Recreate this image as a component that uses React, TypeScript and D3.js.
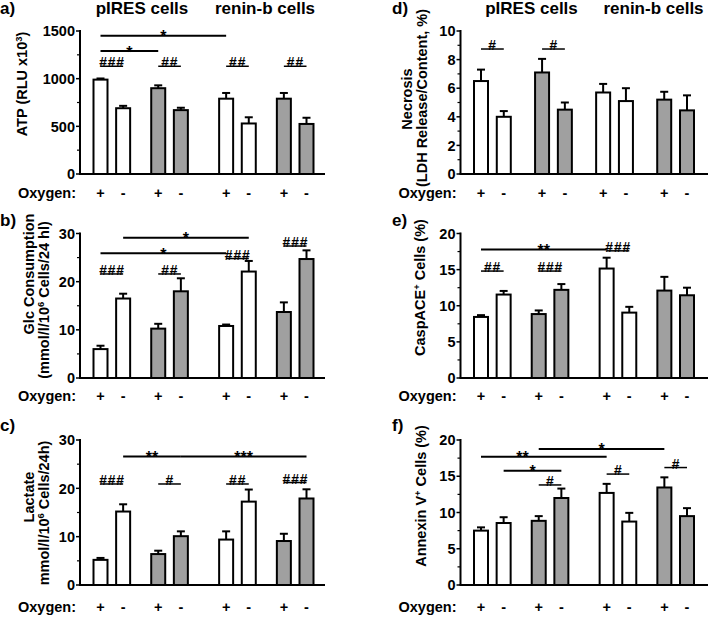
import React from "react";
import * as d3 from "d3";

// ---------- data ----------
const oxygen = ["+", "-", "+", "-", "+", "-", "+", "-"];
const cellLines = ["pIRES cells", "renin-b cells"];
const shadedBar = [false, false, true, true, false, false, true, true];

const atpValues = [990, 690, 900, 670, 790, 530, 790, 525];
const atpErrors = [12, 25, 30, 25, 60, 65, 60, 65];
const glcValues = [6.0, 16.5, 10.25, 18.0, 10.8, 22.1, 13.7, 24.7];
const glcErrors = [0.7, 1.0, 1.0, 2.7, 0.3, 2.2, 2.0, 1.8];
const lactateValues = [5.2, 15.2, 6.4, 10.1, 9.4, 17.25, 9.1, 17.9];
const lactateErrors = [0.4, 1.5, 0.7, 1.0, 1.7, 2.5, 1.5, 1.9];
const necrosisValues = [6.5, 4.0, 7.1, 4.5, 5.7, 5.1, 5.2, 4.45];
const necrosisErrors = [0.8, 0.4, 0.95, 0.5, 0.6, 0.9, 0.55, 1.05];
const caspValues = [8.45, 11.55, 8.85, 12.2, 15.15, 9.05, 12.1, 11.45];
const caspErrors = [0.25, 0.5, 0.5, 0.8, 1.5, 0.8, 1.9, 1.05];
const annexinValues = [7.5, 8.55, 8.85, 12.0, 12.7, 8.75, 13.45, 9.5];
const annexinErrors = [0.45, 0.8, 0.65, 1.3, 1.25, 1.2, 1.4, 1.1];

// significance marks: [fromBar, toBar, level (data units), label, labelFraction?]
const atpMarks: any[] = [
  [0, 4, 1450, "*"], [0, 2, 1290, "*"],
  [0, 1, 1130, "###"], [2, 3, 1130, "##"], [4, 5, 1130, "##"], [6, 7, 1130, "##"],
];
const glcMarks: any[] = [
  [1, 5, 29.1, "*"], [0, 4, 25.9, "*"],
  [0, 1, 21.6, "###"], [2, 3, 21.6, "##"], [4, 5, 24.8, "###"], [6, 7, 27.4, "###"],
];
const lactateMarks: any[] = [
  [1, 3, 26.6, "**"], [3, 7, 26.6, "***"],
  [0, 1, 20.9, "###"], [2, 3, 20.9, "#"], [4, 5, 20.9, "##"], [6, 7, 21.2, "###"],
];
const necrosisMarks: any[] = [[0, 1, 8.74, "#"], [2, 3, 8.74, "#"]];
const caspMarks: any[] = [
  [0, 4, 17.8, "**"], [0, 1, 14.8, "##"], [2, 3, 14.8, "###"], [4, 5, 17.6, "###"],
];
const annexinMarks: any[] = [
  [0, 4, 17.7, "**", 0.33], [2, 6, 18.76, "*"], [1, 3, 15.77, "*"],
  [2, 3, 13.8, "#"], [4, 5, 15.3, "#"], [6, 7, 16.2, "#"],
];

const atpLabel = [["ATP (RLU x10", "3", ")"]];
const glcLabel = [["Glc Consumption"], ["(mmol/l/10", "6", " Cells/24 hl)"]];
const lactateLabel = [["Lactate"], ["mmol/l/10", "6", " Cells/24h)"]];
const necrosisLabel = [["Necrosis"], ["(LDH Release/Content, %)"]];
const caspLabel = [["CaspACE", "+", " Cells (%)"]];
const annexinLabel = [["Annexin V", "+", " Cells (%)"]];

// ---------- layout ----------
const colAxisX = [80, 460.5];
const rowY = [[31, 174], [233.5, 378], [440, 585]];
const oxyBaseline = [198, 401, 612];
const panelLabelX = [0, 392];
const panelLabelY = [14, 226, 431];
const titleOffsets = [[62, 185], [71, 193]];
const leftGaps = [1.55, 2.0, 1.55];

const panels = [
  { id: "a)", col: 0, row: 0, values: atpValues, errors: atpErrors, max: 1500, major: 500, minor: 250, marks: atpMarks, label: atpLabel, lx: [-58], ly: [84], gaps: leftGaps },
  { id: "b)", col: 0, row: 1, values: glcValues, errors: glcErrors, max: 30, major: 10, minor: 5, marks: glcMarks, label: glcLabel, lx: [-51, -36], ly: [274, 300], gaps: leftGaps },
  { id: "c)", col: 0, row: 2, values: lactateValues, errors: lactateErrors, max: 30, major: 10, minor: 5, marks: lactateMarks, label: lactateLabel, lx: [-51, -36], ly: [497, 513], gaps: leftGaps },
  { id: "d)", col: 1, row: 0, values: necrosisValues, errors: necrosisErrors, max: 10, major: 2, minor: 1, marks: necrosisMarks, label: necrosisLabel, lx: [-53.5, -38.5], ly: [99, 98], gaps: [1.68, 1.68, 1.68] },
  { id: "e)", col: 1, row: 1, values: caspValues, errors: caspErrors, max: 20, major: 5, minor: 2.5, marks: caspMarks, label: caspLabel, lx: [-40.5], ly: [287.5], gaps: leftGaps },
  { id: "f)", col: 1, row: 2, values: annexinValues, errors: annexinErrors, max: 20, major: 5, minor: 2.5, marks: annexinMarks, label: annexinLabel, lx: [-39.5], ly: [496], gaps: leftGaps },
];

function LabelLine({ parts }: { parts: string[] }) {
  return (
    <>
      {parts.map((t, k) =>
        k % 2 === 1 ? (
          <tspan key={k} fontSize="0.65em" dy="-0.55em">{t}</tspan>
        ) : (
          <tspan key={k} dy={k > 0 ? "0.36em" : undefined}>{t}</tspan>
        )
      )}
    </>
  );
}

function Panel({ p }: { p: any }) {
  const axisX = colAxisX[p.col];
  const [top, bottom] = rowY[p.row];
  const y = d3.scaleLinear().domain([0, p.max]).range([bottom, top]);
  const slots: number[] = [];
  let s = 0;
  for (let i = 0; i < p.values.length; i++) {
    if (i > 0) s += i % 2 === 1 ? 1 : p.gaps[i / 2 - 1];
    slots.push(s);
  }
  const x = d3.scaleLinear().domain([0, s]).range([axisX + 20.5, axisX + 226.5]);
  const cx = (i: number) => x(slots[i]);
  const barW = 14;
  const capW = 8;
  const majors = d3.range(0, p.max + 1e-9, p.major);
  const minors = d3.range(0, p.max + 1e-9, p.minor).filter((v) => Math.abs(v / p.major - Math.round(v / p.major)) > 1e-6);
  const axisEnd = p.col === 0 ? axisX + 245 : 710;

  return (
    <g>
      <text x={panelLabelX[p.col]} y={panelLabelY[p.row]} fontSize={17}>{p.id}</text>
      {p.row === 0 &&
        cellLines.map((t, k) => (
          <text key={t} x={axisX + titleOffsets[p.col][k]} y={14} fontSize={17} textAnchor="middle">{t}</text>
        ))}
      {p.label.map((parts: string[], k: number) => (
        <text key={k} transform={`translate(${axisX + p.lx[k]},${p.ly[k]}) rotate(-90)`} dy="0.36em" textAnchor="middle" fontSize={14.5}>
          <LabelLine parts={parts} />
        </text>
      ))}
      {/* y axis */}
      <line x1={axisX} x2={axisX} y1={top - 1} y2={bottom} stroke="#000" strokeWidth={2} />
      {majors.map((v) => (
        <g key={"M" + v}>
          <line x1={axisX - 4} x2={axisX} y1={y(v)} y2={y(v)} stroke="#000" strokeWidth={1.5} />
          <text x={axisX - 5} y={y(v)} dy="0.36em" textAnchor="end" fontSize={14.5}>{v}</text>
        </g>
      ))}
      {minors.map((v) => (
        <line key={"m" + v} x1={axisX - 3} x2={axisX} y1={y(v)} y2={y(v)} stroke="#000" strokeWidth={1.2} />
      ))}
      {/* bars */}
      {p.values.map((v: number, i: number) => {
        const c = cx(i);
        const yt = y(v);
        const ye = y(v + p.errors[i]);
        return (
          <g key={i}>
            <line x1={c} x2={c} y1={yt} y2={ye} stroke="#000" strokeWidth={2} />
            <line x1={c - capW / 2} x2={c + capW / 2} y1={ye} y2={ye} stroke="#000" strokeWidth={2} />
            <rect x={c - barW / 2} y={yt} width={barW} height={y(0) - yt} fill={shadedBar[i] ? "#a0a0a0" : "#fff"} stroke="#000" strokeWidth={2} />
          </g>
        );
      })}
      <line x1={axisX - 1} x2={axisEnd} y1={bottom} y2={bottom} stroke="#000" strokeWidth={2} />
      {/* significance marks */}
      {p.marks.map((m: any[], k: number) => {
        const [a, b, lvl, lab, frac] = m;
        const x1 = cx(a), x2 = cx(b);
        const yy = y(lvl);
        const isHash = lab.startsWith("#");
        const tx = x1 + (x2 - x1) * (frac ?? 0.5);
        return (
          <g key={k}>
            <line x1={x1} x2={x2} y1={yy} y2={yy} stroke="#000" strokeWidth={isHash ? 1.5 : 2} />
            {isHash ? (
              <text x={tx} y={yy + 1} textAnchor="middle" fontSize={14} fontStyle="italic" letterSpacing={0.8}>{lab}</text>
            ) : (
              <text x={tx} y={yy + 6.5} textAnchor="middle" fontSize={16}>{lab}</text>
            )}
          </g>
        );
      })}
      {/* oxygen row */}
      <text x={axisX - 4} y={oxyBaseline[p.row]} textAnchor="end" fontSize={14.5}>Oxygen:</text>
      {oxygen.map((o, i) => (
        <text key={i} x={cx(i)} y={oxyBaseline[p.row]} textAnchor="middle" fontSize={14.5}>{o}</text>
      ))}
    </g>
  );
}

export default function App() {
  return (
    <svg
      width={708}
      height={617}
      style={{ position: "absolute", left: 0, top: 0, background: "#fff" }}
      fontFamily="'Liberation Sans', Arial, Helvetica, sans-serif"
      fontWeight="bold"
    >
      <rect width={708} height={617} fill="#fff" />
      {panels.map((p) => (
        <Panel key={p.id} p={p} />
      ))}
    </svg>
  );
}
